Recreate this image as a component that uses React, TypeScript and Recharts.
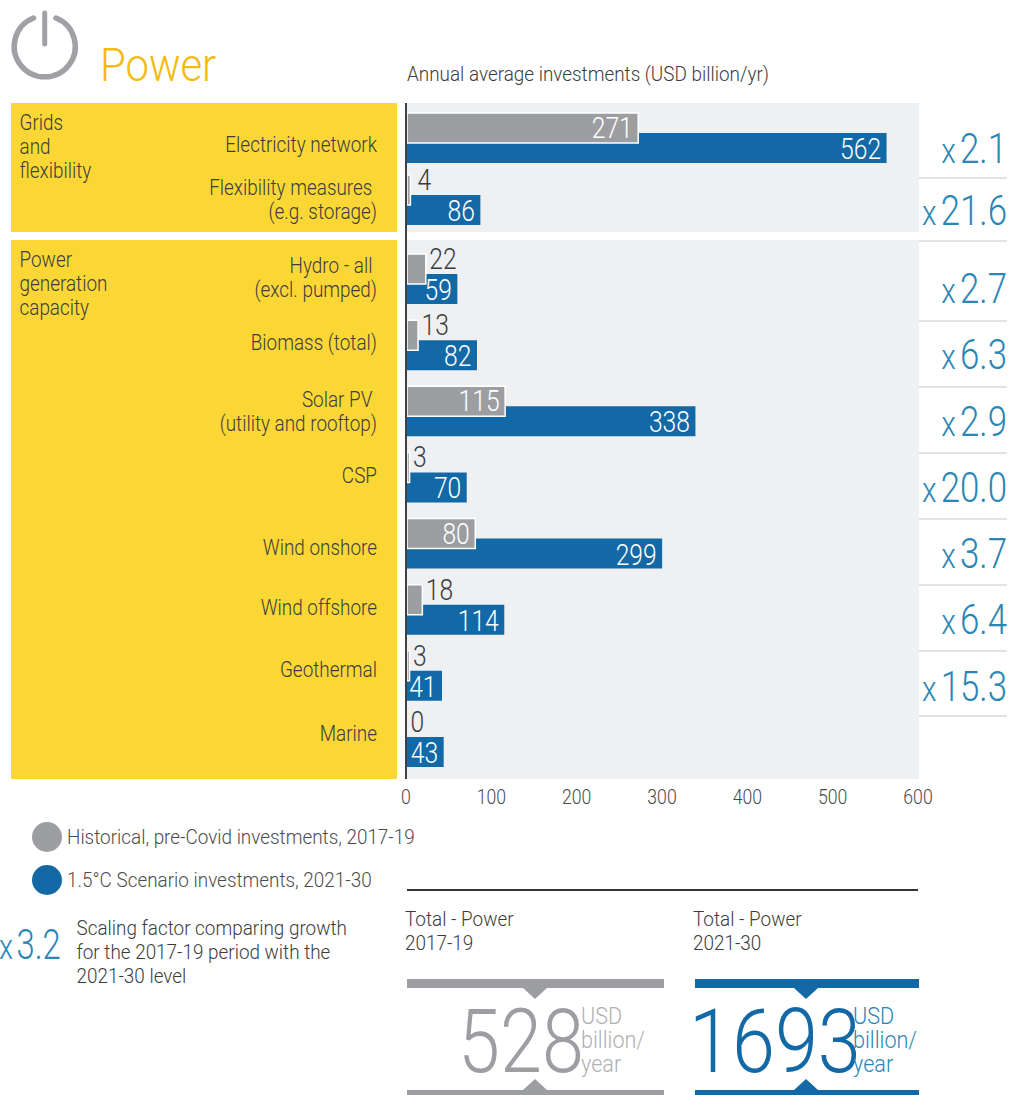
import React from "react";
import { BarChart, Bar, XAxis, YAxis, CartesianGrid, LabelList } from "recharts";

const gridCategories = ["Electricity network", "Flexibility measures\u00a0|(e.g. storage)"];
const genCategories = [
  "Hydro - all\u00a0|(excl. pumped)",
  "Biomass (total)",
  "Solar PV\u00a0|(utility and rooftop)",
  "CSP",
  "Wind onshore",
  "Wind offshore",
  "Geothermal",
  "Marine",
];
const gridHistorical = [271, 4];
const gridScenario = [562, 86];
const genHistorical = [22, 13, 115, 3, 80, 18, 3, 0];
const genScenario = [59, 82, 338, 70, 299, 114, 41, 43];
const factors = ["2.1", "21.6", "2.7", "6.3", "2.9", "20.0", "3.7", "6.4", "15.3"];
const xTicks = [0, 100, 200, 300, 400, 500, 600];

const GREY = "#9d9ea1";
const BLUE = "#1269a6";
const YELLOW = "#fad735";
const PANEL = "#eff0f2";
const TEAL = "#2a86b5";
const INK = "#3c3c3e";
const FONT = "Roboto, sans-serif";

const factorBaselines = [163, 225, 303, 369, 436, 502, 568, 634, 701];
const ruleYs = [178, 241, 321, 387, 453, 519, 585, 651, 716];
const gridNudges = [5.5, -1.5];
const genNudges = [-2.5, -3.5, -0.5, -2.5, 3.5, -2.5, -6.5, -8.5];

function T({ x, y, size, children, fill = INK, anchor = "start", sx = 0.86, weight = 300 }: any) {
  return (
    <text
      transform={`translate(${x},${y}) scale(${sx},1)`}
      textAnchor={anchor}
      fontFamily={FONT}
      fontWeight={weight}
      fontSize={size}
      fill={fill}
      xmlSpace="preserve"
    >
      {children}
    </text>
  );
}

const makeTick = (nudges: number[]) => (p: any) => {
  const lines = String(p.payload.value).split("|");
  const top = p.y + nudges[p.index] - ((lines.length - 1) * 24) / 2 + 8;
  return (
    <g>
      {lines.map((l: string, i: number) => (
        <T key={i} x={p.x} y={top + i * 24} size={22} anchor="end">
          {l}
        </T>
      ))}
    </g>
  );
};

const HistLabel = (p: any) => {
  const v = Number(p.value);
  const end = p.x + p.width;
  if (v >= 50) {
    return (
      <T x={end - 5.5} y={p.y + p.height / 2 + 10} size={29} sx={0.85} fill="#ffffff" anchor="end">
        {v}
      </T>
    );
  }
  const dx = v === 4 ? 7 : 3.5;
  return (
    <T x={end + dx} y={p.y + p.height / 2} size={29} sx={0.85} fill={INK}>
      {v}
    </T>
  );
};

const ScenLabel = (p: any) => (
  <T x={p.x + p.width - 5.5} y={p.y + p.height / 2 + 11} size={29} sx={0.85} fill="#ffffff" anchor="end">
    {p.value}
  </T>
);

// A zero-length bar has no rectangle to hang a label on, so the "0" is read from the row of the blue bar.
const ZeroLabel = (p: any) =>
  Number(p.value) === 0 ? (
    <T x={p.x + 3.5} y={p.y - 5} size={29} sx={0.85} fill={INK}>
      {0}
    </T>
  ) : null;

const AxisTick = (p: any) => (
  <T x={p.x - 1} y={p.y + 17} size={21} sx={0.84} anchor="middle" fill="#48484a">
    {p.payload.value}
  </T>
);

function Panel({ cats, hist, scen, width, height, top, pad, nudges, showAxis }: any) {
  const data = cats.map((c: string, i: number) => ({ category: c, historical: hist[i], scenario: scen[i] }));
  return (
    <div style={{ position: "absolute", left: 11, top }}>
      <BarChart
        layout="vertical"
        width={width}
        height={height}
        data={data}
        margin={{ top: 0, right: 20, bottom: 0, left: 0 }}
        barSize={30}
        barGap={-50}
      >
        <CartesianGrid horizontal={false} vertical={false} fill={PANEL} fillOpacity={1} stroke="none" />
        <XAxis
          type="number"
          domain={[0, 600]}
          ticks={xTicks}
          hide={!showAxis}
          axisLine={false}
          tickLine={false}
          tickSize={0}
          tickMargin={8}
          height={showAxis ? 32 : 0}
          tick={AxisTick}
          interval={0}
        />
        <YAxis
          type="category"
          dataKey="category"
          width={396}
          axisLine={false}
          tickLine={false}
          tickSize={0}
          tickMargin={30}
          padding={pad}
          interval={0}
          tick={makeTick(nudges)}
        />
        <Bar dataKey="scenario" fill={BLUE} isAnimationActive={false}>
          <LabelList dataKey="scenario" content={ScenLabel} />
          <LabelList dataKey="historical" content={ZeroLabel} />
        </Bar>
        <Bar dataKey="historical" fill={GREY} stroke="#ffffff" strokeWidth={1.5} isAnimationActive={false}>
          <LabelList dataKey="historical" content={HistLabel} />
        </Bar>
      </BarChart>
    </div>
  );
}

function Total({ x0, x1, cx, color, title, years, value, vx, vsx, usdX, usdColor }: any) {
  return (
    <g>
      <T x={x0 - 2} y={926} size={21} sx={0.9}>{title}</T>
      <T x={x0 - 2} y={950} size={21} sx={0.9}>{years}</T>
      <rect x={x0} y={979} width={x1 - x0} height={9} fill={color} />
      <polygon points={`${cx - 12},988 ${cx + 12},988 ${cx},999`} fill={color} />
      <rect x={x0} y={1090} width={x1 - x0} height={5} fill={color} />
      <polygon points={`${cx - 12},1090 ${cx + 12},1090 ${cx},1079`} fill={color} />
      <T x={vx} y={1072} size={89} sx={vsx} fill={color}>{value}</T>
      <T x={usdX} y={1024} size={24} sx={0.9} fill={usdColor}>USD</T>
      <T x={usdX} y={1048} size={24} sx={0.9} fill={usdColor}>billion/</T>
      <T x={usdX} y={1072} size={24} sx={0.9} fill={usdColor}>year</T>
    </g>
  );
}

export default function App() {
  return (
    <div style={{ position: "absolute", left: 0, top: 0, width: 1010, height: 1095, background: "#fff", overflow: "hidden" }}>
      <svg width={1010} height={1095} style={{ position: "absolute", left: 0, top: 0 }}>
        <path d="M33.5 18 A30.5 30.5 0 1 0 56 18" fill="none" stroke="#a0a1a4" strokeWidth={5.5} strokeLinecap="round" />
        <line x1={44.7} y1={13} x2={44.7} y2={44} stroke="#a0a1a4" strokeWidth={5} strokeLinecap="round" />
        <T x={100} y={80.5} size={47} sx={0.89} fill="#f2bb12">Power</T>
        <T x={407} y={81} size={21} sx={0.9}>Annual average investments (USD billion/yr)</T>

        <rect x={11} y={103} width={386} height={129} fill={YELLOW} />
        <rect x={11} y={240} width={386} height={539} fill={YELLOW} />
        {["Grids", "and", "flexibility"].map((s, i) => (
          <T key={s} x={19.5} y={130 + i * 24} size={22}>{s}</T>
        ))}
        {["Power", "generation", "capacity"].map((s, i) => (
          <T key={s} x={19.5} y={267 + i * 24} size={22}>{s}</T>
        ))}

        {ruleYs.map((y) => (
          <line key={y} x1={919} x2={1007} y1={y} y2={y} stroke="#d9dadb" strokeWidth={1.5} />
        ))}
        {factors.map((f, i) => (
          <T key={i} x={1007} y={factorBaselines[i]} size={42} sx={0.83} fill={TEAL} anchor="end">
            <tspan fontSize={36}>x</tspan>
            <tspan dx={5}>{f}</tspan>
          </T>
        ))}

        <circle cx={47} cy={837} r={15} fill={GREY} />
        <circle cx={47} cy={880} r={15} fill={BLUE} />
        <T x={67} y={844} size={21} sx={0.9} fill="#4c4c4e">Historical, pre-Covid investments, 2017-19</T>
        <T x={67} y={887} size={21} sx={0.9} fill="#4c4c4e">1.5°C Scenario investments, 2021-30</T>
        <T x={-1} y={959} size={36} sx={0.8} fill={TEAL}>x</T>
        <T x={16.5} y={959} size={42} sx={0.78} fill={TEAL}>3.2</T>
        {["Scaling factor comparing growth", "for the 2017-19 period with the", "2021-30 level"].map((s, i) => (
          <T key={s} x={76.5} y={935 + i * 24} size={21} sx={0.9}>{s}</T>
        ))}

        <line x1={407} x2={918} y1={890} y2={890} stroke="#333335" strokeWidth={2} />
        <Total x0={407} x1={664} cx={535} color={GREY} title="Total - Power" years="2017-19" value="528" vx={458} vsx={0.85} usdX={581} usdColor="#b0b1b3" />
        <Total x0={695} x1={919} cx={806} color={BLUE} title="Total - Power" years="2021-30" value="1693" vx={689} vsx={0.87} usdX={853} usdColor={TEAL} />
      </svg>

      <Panel cats={gridCategories} hist={gridHistorical} scen={gridScenario} width={928} height={129} top={103} pad={{ top: 4, bottom: 1 }} nudges={gridNudges} showAxis={false} />
      <Panel cats={genCategories} hist={genHistorical} scen={genScenario} width={928} height={571} top={240} pad={{ top: 6, bottom: 4 }} nudges={genNudges} showAxis={true} />

      <div style={{ position: "absolute", left: 404.5, top: 103, width: 2, height: 676, background: "#3f4145" }} />
    </div>
  );
}
